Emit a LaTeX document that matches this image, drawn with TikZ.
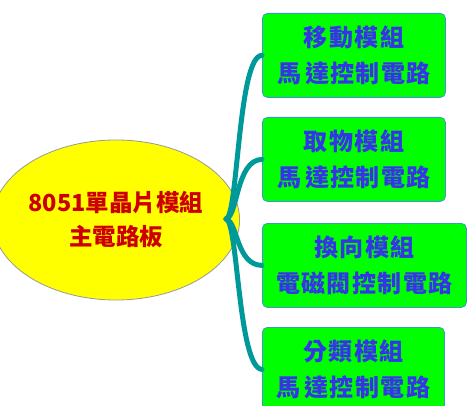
\documentclass[tikz,border=0pt]{standalone}
\usepackage{fontspec}
\newfontfamily\cjk[LetterSpace=6]{Noto Sans CJK TC}
\newfontfamily\cjkel{Noto Sans CJK TC}
\usetikzlibrary{shapes.geometric}
\definecolor{boxgreen}{HTML}{00FF00}
\definecolor{boxedge}{HTML}{3A9AC8}
\definecolor{txtblue}{HTML}{3535E8}
\definecolor{txtred}{HTML}{CC0000}
\definecolor{linkteal}{HTML}{00999A}
\definecolor{ellyellow}{HTML}{FFFF00}
\tikzset{
  modbox/.style={draw=boxedge, line width=0.8pt, fill=boxgreen, rounded corners=5pt,
    minimum height=84pt, anchor=north west, inner sep=0pt, align=center,
    text=txtblue, font=\cjk\bfseries\fontsize{24}{36}\selectfont},
  link/.style={draw=linkteal, line width=5pt, line cap=round},
}
\begin{document}
\begin{tikzpicture}[x=1pt,y=-1pt]
\useasboundingbox (0,0) rectangle (468,406);
\fill[white] (0,0) rectangle (468,406);
\node[ellipse, draw=gray!80, line width=0.8pt, fill=ellyellow, minimum width=208pt, minimum height=160pt,
  inner sep=0pt, align=center, text=txtred, font=\cjkel\bfseries\fontsize{23.5}{34}\selectfont]
  (root) at (116,220) {8051單晶片模組\\主電路板};
\coordinate (tip) at (226,219);
\node[modbox, minimum width=183pt] (m1) at (262,13) {移動模組\hspace{12pt}\\馬\,達控制電路};
\node[modbox, minimum width=183pt] (m2) at (262,117) {取物模組\hspace{12pt}\\馬\,達控制電路};
\node[modbox, minimum width=204pt] (m3) at (262,223) {換向模組\hspace{12pt}\\電磁閥控制電路};
\node[modbox, minimum width=182pt] (m4) at (262,327) {分類模組\hspace{12pt}\\馬\,達控制電路};
\draw[link] (tip) .. controls (238,218) and (238,55) .. (m1.west);
\draw[link] (tip) .. controls (238,216) and (236,160) .. (m2.west);
\draw[link] (tip) .. controls (238,222) and (236,265) .. (m3.west);
\draw[link] (tip) .. controls (238,220) and (238,368) .. (m4.west);
\end{tikzpicture}
\end{document}
